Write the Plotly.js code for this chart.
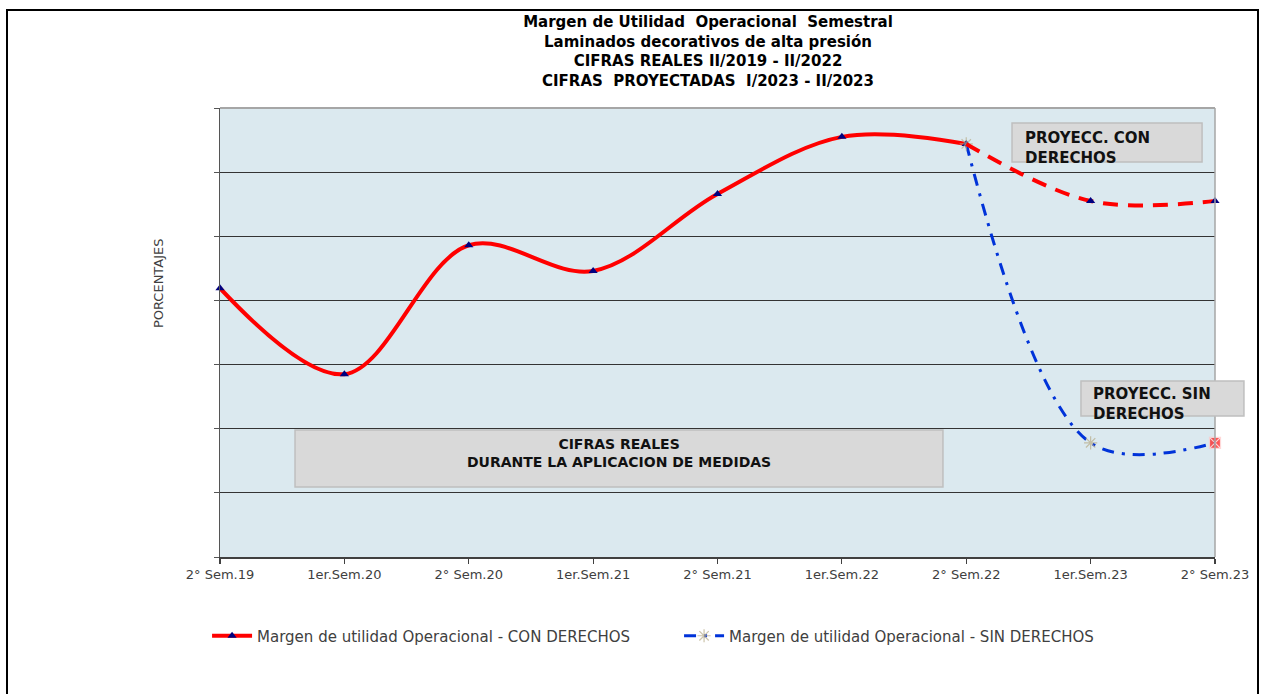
<!DOCTYPE html>
<html>
<head>
<meta charset="utf-8">
<script src="https://cdn.plot.ly/plotly-3.0.1.min.js"></script>
<style>
  html, body { margin: 0; padding: 0; background: #fff; }
  #chart { position: absolute; left: 0; top: 0; width: 1262px; height: 694px; }
  #frame { position: absolute; left: 6px; top: 9px; width: 1249px; height: 700px; border: 2px solid #000; border-bottom: none; pointer-events: none; }
</style>
</head>
<body>
<div id="chart"></div>
<div id="frame"></div>
<script>
// ---- data ----
const categories = ["2° Sem.19", "1er.Sem.20", "2° Sem.20", "1er.Sem.21", "2° Sem.21", "1er.Sem.22", "2° Sem.22", "1er.Sem.23", "2° Sem.23"];
const realCategories = categories.slice(0, 7);
const conDerechosReal = [4.19, 2.85, 4.86, 4.46, 5.66, 6.55, 6.44];
const projCategories = categories.slice(6);
const conDerechosProj = [6.44, 5.55, 5.55];
const sinDerechosProj = [6.44, 1.78, 1.78];

const titleLines = [
  "Margen de Utilidad  Operacional  Semestral",
  "Laminados decorativos de alta presión",
  "CIFRAS REALES II/2019 - II/2022",
  "CIFRAS  PROYECTADAS  I/2023 - II/2023"
];
const seriesNames = ["Margen de utilidad Operacional - CON DERECHOS", "Margen de utilidad Operacional - SIN DERECHOS"];

const FONT = "DejaVu Sans, Verdana, sans-serif";
const idx = c => categories.indexOf(c);

const traces = [
  {
    x: realCategories.map(idx), y: conDerechosReal, name: seriesNames[0],
    type: "scatter", mode: "lines+markers", cliponaxis: false,
    line: { color: "#ff0000", width: 4, shape: "spline", smoothing: 1 },
    marker: { symbol: "triangle-up", color: "#00007f", size: 8 },
    hoverinfo: "skip"
  },
  {
    x: projCategories.map(idx), y: sinDerechosProj, name: seriesNames[1],
    type: "scatter", mode: "lines+markers", cliponaxis: false,
    line: { color: "#0033d9", width: 3, shape: "spline", smoothing: 1, dash: "12px,8px,3px,8px" },
    marker: {
      symbol: ["asterisk", "asterisk", "square-x"],
      color: ["#b8ac88", "#b8ac88", "#ff1010"],
      size: [11, 11, 11],
      line: { color: ["#b8ac88", "#b8ac88", "#ffc8c8"], width: 1.2 }
    },
    hoverinfo: "skip"
  },
  {
    x: projCategories.map(idx), y: conDerechosProj, name: seriesNames[0], showlegend: false,
    type: "scatter", mode: "lines+markers", cliponaxis: false,
    line: { color: "#ff0000", width: 4, shape: "spline", smoothing: 1, dash: "15px,10px" },
    marker: { symbol: "triangle-up", color: ["rgba(0,0,0,0)", "#00007f", "#00007f"], size: 8 },
    hoverinfo: "skip"
  }
];

const boxStyle = { type: "rect", xref: "paper", yref: "paper", fillcolor: "#d9d9d9", line: { color: "#bfbfbf", width: 1.5 }, layer: "above" };

const layout = {
  width: 1262, height: 694,
  margin: { l: 220, r: 47, t: 108, b: 137 },
  paper_bgcolor: "#ffffff",
  plot_bgcolor: "#dbe9ef",
  font: { family: FONT, color: "#404040" },
  title: {
    text: titleLines.map(t => "<b>" + t + "</b>").join("<br>"),
    font: { family: FONT, size: 15, color: "#000000" },
    x: 708 / 1262, xanchor: "center", xref: "container",
    y: 1 - 27 / 694, yanchor: "top", yref: "container"
  },
  xaxis: {
    range: [0, 8],
    tickvals: categories.map((c, i) => i), ticktext: categories,
    showgrid: false, zeroline: false,
    showline: true, linecolor: "#404040", linewidth: 1.5,
    ticks: "outside", ticklen: 5, tickcolor: "#404040", tickwidth: 1.2,
    tickfont: { family: FONT, size: 13, color: "#404040" },
    fixedrange: true
  },
  yaxis: {
    range: [0, 7], tickvals: [0, 1, 2, 3, 4, 5, 6, 7],
    showticklabels: false,
    showgrid: true, gridcolor: "#333333", gridwidth: 1.2, zeroline: false,
    showline: true, linecolor: "#555555", linewidth: 1.5,
    ticks: "outside", ticklen: 5, tickcolor: "#555555",
    automargin: false,
    fixedrange: true
  },
  showlegend: true,
  legend: {
    orientation: "h", x: -0.013, xanchor: "left", y: -0.176, yanchor: "middle",
    font: { family: FONT, size: 15, color: "#404040" },
    itemwidth: 40, tracegroupgap: 0, entrywidth: 417, entrywidthmode: "pixels"
  },
  shapes: [
    { type: "line", xref: "paper", yref: "paper", x0: 0, x1: 1, y0: 1, y1: 1, line: { color: "#a6a6a6", width: 2 }, layer: "above" },
    { type: "line", xref: "paper", yref: "paper", x0: 1, x1: 1, y0: 0, y1: 1, line: { color: "#a6a6a6", width: 1.5 }, layer: "above" },
    Object.assign({}, boxStyle, { x0: 0.796, x1: 0.987, y0: 0.880, y1: 0.9666 }),
    Object.assign({}, boxStyle, { x0: 0.8653, x1: 1.0291, y0: 0.314, y1: 0.392 }),
    Object.assign({}, boxStyle, { x0: 0.0754, x1: 0.7266, y0: 0.156, y1: 0.2829 })
  ],
  annotations: [
    { xref: "paper", yref: "paper", x: -0.0623, y: 0.610, xanchor: "center", yanchor: "middle", textangle: -90, showarrow: false,
      text: "PORCENTAJES", font: { family: FONT, size: 13, color: "#404040" } },
    { xref: "paper", yref: "paper", x: 0.807, y: 0.912, xanchor: "left", yanchor: "middle", align: "left", showarrow: false,
      text: "<b>PROYECC. CON<br>DERECHOS</b>", font: { family: FONT, size: 15, color: "#111111" } },
    { xref: "paper", yref: "paper", x: 0.8754, y: 0.341, xanchor: "left", yanchor: "middle", align: "left", showarrow: false,
      text: "<b>PROYECC. SIN<br>DERECHOS</b>", font: { family: FONT, size: 15, color: "#111111" } },
    { xref: "paper", yref: "paper", x: 0.401, y: 0.2327, xanchor: "center", yanchor: "middle", align: "center", showarrow: false,
      text: "<b>CIFRAS REALES<br>DURANTE LA APLICACION DE MEDIDAS</b>", font: { family: FONT, size: 14, color: "#111111" } }
  ]
};

Plotly.newPlot("chart", traces, layout, { displayModeBar: false, staticPlot: true });
</script>
</body>
</html>
